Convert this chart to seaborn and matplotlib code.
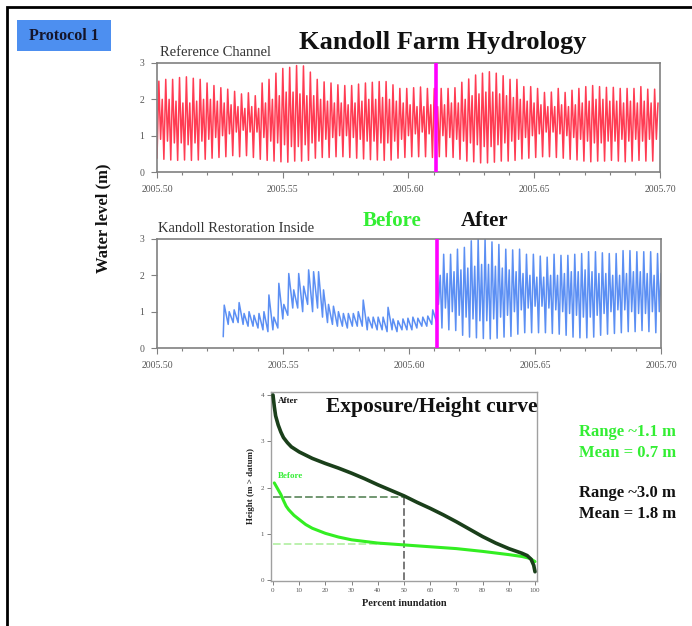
import numpy as np
import pandas as pd
import matplotlib
matplotlib.use("Agg")
import matplotlib.pyplot as plt
import seaborn as sns
from matplotlib.patches import Rectangle
from matplotlib.ticker import MultipleLocator, FormatStrFormatter

sns.set_theme(style="white")
plt.rcParams['font.family'] = ['Liberation Serif', 'DejaVu Serif']

# ---------------- data ----------------
START = 2005.50
DAYS_PER_YEAR = 365.25
SWITCH_YEAR = 2005.611          # magenta line: before / after restoration

# Reference channel: daily tide extremes (m)
ref_high = [2.50, 2.55, 2.55, 2.60, 2.62, 2.58, 2.55, 2.45, 2.38, 2.32, 2.28, 2.22, 2.15, 2.18, 2.10,
            2.45, 2.55, 2.72, 2.85, 2.88, 2.93, 2.92, 2.75, 2.55, 2.48, 2.45, 2.40, 2.38, 2.38, 2.42,
            2.45, 2.47, 2.49, 2.49, 2.40, 2.30, 2.30, 2.32, 2.34, 2.30, 2.30, 2.30, 2.30, 2.32, 2.47,
            2.56, 2.67, 2.72, 2.76, 2.72, 2.65, 2.55, 2.55, 2.35, 2.35, 2.30, 2.19, 2.20, 2.30, 2.19,
            2.25, 2.30, 2.35, 2.38, 2.35, 2.33, 2.33, 2.30, 2.30, 2.30, 2.35, 2.28, 2.28]
ref_low = [0.38, 0.35, 0.33, 0.32, 0.33, 0.32, 0.33, 0.35, 0.38, 0.40, 0.42, 0.45, 0.42, 0.45, 0.40,
           0.35, 0.32, 0.30, 0.28, 0.27, 0.30, 0.30, 0.32, 0.38, 0.40, 0.40, 0.42, 0.42, 0.40, 0.38,
           0.36, 0.34, 0.33, 0.32, 0.33, 0.38, 0.40, 0.42, 0.42, 0.42, 0.40, 0.42, 0.42, 0.40, 0.35,
           0.30, 0.28, 0.25, 0.25, 0.27, 0.30, 0.30, 0.32, 0.36, 0.38, 0.40, 0.42, 0.42, 0.40, 0.38,
           0.35, 0.33, 0.30, 0.28, 0.30, 0.30, 0.32, 0.30, 0.28, 0.30, 0.32, 0.30, 0.30]
ref_mid_high = [2.00, 2.00, 1.95, 1.90, 1.90, 1.95, 2.00, 2.00, 1.95, 1.90, 1.85, 1.80, 1.75, 1.80, 1.75,
                1.90, 2.00, 2.10, 2.20, 2.20, 2.15, 2.10, 2.10, 2.00, 1.95, 1.90, 1.90, 1.85, 1.90, 1.95,
                2.00, 2.00, 2.05, 2.00, 1.95, 1.90, 1.85, 1.80, 1.80, 1.85, 1.80, 1.85, 1.90, 1.90, 2.00,
                2.10, 2.15, 2.20, 2.20, 2.15, 2.10, 2.05, 2.00, 1.95, 1.90, 1.85, 1.80, 1.80, 1.85, 1.80,
                1.85, 1.90, 1.95, 2.00, 2.00, 1.95, 1.95, 1.90, 1.95, 1.90, 1.95, 1.90, 1.90]
ref_mid_low = [0.90, 0.85, 0.80, 0.80, 0.75, 0.80, 0.85, 0.90, 0.95, 1.00, 1.05, 1.10, 1.15, 1.10, 1.10,
               0.95, 0.85, 0.80, 0.75, 0.70, 0.70, 0.75, 0.80, 0.85, 0.90, 0.95, 1.00, 1.00, 0.95, 0.90,
               0.85, 0.85, 0.80, 0.80, 0.85, 0.90, 1.00, 1.05, 1.10, 1.05, 1.00, 1.00, 0.95, 0.90, 0.85,
               0.80, 0.75, 0.70, 0.70, 0.75, 0.80, 0.85, 0.90, 0.95, 1.00, 1.05, 1.10, 1.10, 1.05, 1.00,
               0.95, 0.90, 0.85, 0.80, 0.80, 0.85, 0.85, 0.90, 0.85, 0.90, 0.85, 0.90, 0.90]

# Kandoll restoration inside, before breach: saw-tooth peaks / troughs (m)
ins_before_start_day = 9.6
ins_before_peak = [1.18, 1.00, 1.05, 1.25, 0.95, 1.00, 0.90, 0.95, 1.00, 1.46, 0.85, 1.78, 1.20, 2.05,
                   1.60, 2.05, 1.70, 2.15, 2.10, 2.10, 1.60, 1.20, 1.15, 1.00, 0.95, 0.95, 0.95, 1.00,
                   1.32, 0.85, 0.85, 0.85, 0.85, 1.12, 0.80, 0.75, 0.80, 0.82, 0.85, 0.82, 0.85, 0.88, 1.05]
ins_before_trough = [0.31, 0.65, 0.70, 0.70, 0.65, 0.60, 0.60, 0.55, 0.50, 0.45, 0.50, 0.55, 0.80, 0.90,
                     1.10, 1.10, 1.00, 1.20, 1.00, 1.10, 0.85, 0.70, 0.65, 0.60, 0.60, 0.55, 0.60, 0.60,
                     0.60, 0.50, 0.55, 0.50, 0.50, 0.45, 0.50, 0.45, 0.50, 0.50, 0.50, 0.55, 0.60, 0.60, 0.65]
ins_before_end = 0.70

# Kandoll restoration inside, after breach: daily tide extremes (m)
ins_after_start_day = 40.55
ins_after_high = [2.42, 2.58, 2.58, 2.72, 2.77, 2.95, 3.00, 3.00, 2.92, 2.85, 2.72, 2.70, 2.72, 2.58,
                  2.58, 2.53, 2.50, 2.58, 2.55, 2.55, 2.58, 2.60, 2.65, 2.65, 2.62, 2.60, 2.60, 2.68,
                  2.68, 2.65, 2.65, 2.65, 2.60]
ins_after_low = [0.55, 0.50, 0.48, 0.35, 0.30, 0.28, 0.26, 0.25, 0.27, 0.30, 0.32, 0.38, 0.42, 0.42,
                 0.42, 0.42, 0.40, 0.38, 0.35, 0.30, 0.28, 0.28, 0.30, 0.35, 0.38, 0.40, 0.42, 0.45,
                 0.45, 0.48, 0.45, 0.42, 0.40]
ins_after_mid_high = [2.00, 2.05, 2.10, 2.15, 2.20, 2.25, 2.30, 2.30, 2.25, 2.20, 2.15, 2.10, 2.05, 2.00,
                      1.95, 1.95, 2.00, 2.00, 2.05, 2.10, 2.10, 2.15, 2.10, 2.05, 2.05, 2.00, 2.00, 2.05,
                      2.10, 2.10, 2.05, 2.00, 2.05]
ins_after_mid_low = [1.20, 1.10, 1.00, 0.90, 0.85, 0.80, 0.75, 0.75, 0.80, 0.85, 0.90, 1.00, 1.05, 1.10,
                     1.15, 1.15, 1.10, 1.05, 1.00, 0.95, 0.90, 0.85, 0.85, 0.90, 0.95, 1.00, 1.05, 1.05,
                     1.00, 0.95, 0.95, 1.00, 1.00]

# Exposure / height curves
after_pct = [0, 0.5, 1, 2, 3, 4, 5.5, 7, 10, 15, 20, 25, 30, 35, 40, 45, 50, 55, 60, 65, 70, 75, 80,
             85, 90, 95, 97, 98.5, 99.5, 100]
after_height = [4.0, 3.75, 3.55, 3.35, 3.2, 3.08, 2.97, 2.88, 2.77, 2.63, 2.52, 2.42, 2.31, 2.19,
                2.06, 1.94, 1.82, 1.68, 1.55, 1.41, 1.26, 1.10, 0.94, 0.80, 0.68, 0.58, 0.53, 0.45,
                0.32, 0.18]
before_pct = [0.5, 1, 2, 3, 4, 5, 6, 8, 10, 12.5, 15, 20, 25, 30, 40, 50, 60, 70, 80, 90, 95, 98, 100]
before_height = [2.1, 2.05, 1.95, 1.85, 1.72, 1.6, 1.52, 1.4, 1.31, 1.2, 1.12, 1.01, 0.93, 0.87,
                 0.80, 0.76, 0.72, 0.68, 0.62, 0.55, 0.51, 0.47, 0.40]
after_mean_line = 1.8
before_mean_line = 0.77
median_pct = 50
before_line_end = 43

summary_before = ["Range ~1.1 m", "Mean = 0.7 m"]
summary_after = ["Range ~3.0 m", "Mean = 1.8 m"]

# ---------------- build tables ----------------
OFFS = [0.0, 0.27, 0.52, 0.76]
rows = []
for d in range(len(ref_high)):
    for off, v in zip(OFFS, (ref_low[d], ref_high[d], ref_mid_low[d], ref_mid_high[d])):
        rows.append((START + (d + off) / DAYS_PER_YEAR, v))
ref_df = pd.DataFrame(rows, columns=["year", "level"])

rows = []
t0 = START + ins_before_start_day / DAYS_PER_YEAR
step = (SWITCH_YEAR - t0) / len(ins_before_peak)
for i, (p, tr) in enumerate(zip(ins_before_peak, ins_before_trough)):
    rows.append((t0 + i * step, tr))
    rows.append((t0 + (i + 0.2) * step, p))
rows.append((SWITCH_YEAR, ins_before_end))
AOFFS = [0.0, 0.25, 0.5, 0.75]
for d in range(len(ins_after_high)):
    for off, v in zip(AOFFS, (ins_after_high[d], ins_after_mid_low[d], ins_after_mid_high[d], ins_after_low[d])):
        rows.append((START + (ins_after_start_day + d + off) / DAYS_PER_YEAR, v))
ins_df = pd.DataFrame(rows, columns=["year", "level"])

after_df = pd.DataFrame({"pct": after_pct, "h": after_height})
before_df = pd.DataFrame({"pct": before_pct, "h": before_height})

# ---------------- figure ----------------
W, H = 692, 626
fig = plt.figure(figsize=(W / 100, H / 100), dpi=100)
fig.patch.set_facecolor("white")

def fx(x):
    return x / W

def fy(y):
    return 1 - y / H

RED = "#ff1a35"
BLUE = "#3f7cf2"
MAG = "#ff00ff"
GREEN = "#33ee33"
GRAY = "#808080"
TICKC = "#555555"

ax1 = fig.add_axes([fx(157), fy(172), (660 - 157) / W, (172 - 63) / H])
ax2 = fig.add_axes([fx(157), fy(348), (661 - 157) / W, (348 - 239) / H])
ax3 = fig.add_axes([fx(271), fy(581), (537 - 271) / W, (581 - 392) / H])

sns.lineplot(data=ref_df, x="year", y="level", sort=False, estimator=None, ax=ax1,
             color=RED, lw=1.1, alpha=0.85)
sns.lineplot(data=ins_df, x="year", y="level", sort=False, estimator=None, ax=ax2,
             color=BLUE, lw=1.1, alpha=0.85)

for ax in (ax1, ax2):
    ax.axvline(SWITCH_YEAR, color=MAG, lw=2.6, zorder=5)
    ax.set_xlim(START, 2005.70)
    ax.set_ylim(0, 3)
    ax.xaxis.set_major_locator(MultipleLocator(0.05))
    ax.xaxis.set_minor_locator(MultipleLocator(0.01))
    ax.xaxis.set_major_formatter(FormatStrFormatter("%.2f"))
    ax.yaxis.set_major_locator(MultipleLocator(1))
    ax.set_xlabel("")
    ax.set_ylabel("")
    ax.tick_params(axis="both", which="major", direction="out", length=4, width=0.8,
                   colors=GRAY, labelcolor=TICKC, labelsize=7, pad=5)
    ax.tick_params(axis="x", which="minor", direction="out", length=2.5, width=0.8, colors=GRAY)
    ax.tick_params(bottom=True, left=True, which="both")
    for s in ax.spines.values():
        s.set_color(GRAY)
        s.set_linewidth(1.2)

# bottom panel
sns.lineplot(data=after_df, x="pct", y="h", sort=False, estimator=None, ax=ax3,
             color="#1a3f1a", lw=2.6, zorder=4)
sns.lineplot(data=before_df, x="pct", y="h", sort=False, estimator=None, ax=ax3,
             color="#33ee22", lw=2.2, zorder=3)
ax3.hlines(after_mean_line, 0, median_pct, colors="#4a7a4a", linestyles=(0, (5, 2)), lw=1.1, zorder=2)
ax3.vlines(median_pct, 0, after_mean_line, colors="#555555", linestyles=(0, (5, 2)), lw=1.1, zorder=2)
ax3.hlines(before_mean_line, 0, before_line_end, colors="#aaee99", linestyles=(0, (5, 2)), lw=1.1, zorder=2)
ax3.set_xlim(-0.76, 100.76)
ax3.set_ylim(-0.02, 4.065)
ax3.xaxis.set_major_locator(MultipleLocator(10))
ax3.yaxis.set_major_locator(MultipleLocator(1))
ax3.tick_params(axis="both", which="major", direction="out", length=3, width=0.7,
                colors=GRAY, labelcolor=TICKC, labelsize=5, pad=2)
ax3.tick_params(bottom=True, left=True)
for s in ax3.spines.values():
    s.set_color("#a0a0a0")
    s.set_linewidth(1.0)
ax3.set_xlabel("Percent inundation", fontsize=7.5, fontweight="bold", color="#222222", labelpad=4)
ax3.set_ylabel("Height (m > datum)", fontsize=6.5, fontweight="bold", color="#222222", labelpad=4)
ax3.text(1.8, 3.88, "After", fontsize=6.5, fontweight="bold", color="#111111", va="center")
ax3.text(2.0, 2.25, "Before", fontsize=6.5, fontweight="bold", color=GREEN, va="center")
ax3.text(1.0, 0.92, "Exposure/Height curve", transform=ax3.transAxes, ha="right", va="center",
         fontsize=15.5, fontweight="bold", color="#111111")

# ---------------- slide decorations ----------------
fig.patches.append(Rectangle((fx(7), fy(660)), (720 - 7) / W, (660 - 7) / H, transform=fig.transFigure,
                             fill=False, edgecolor="black", lw=2))
fig.patches.append(Rectangle((fx(17), fy(51)), (111 - 17) / W, (51 - 20) / H, transform=fig.transFigure,
                             facecolor="#4d8ff0", edgecolor="none"))
fig.text(fx(64), fy(36), "Protocol 1", ha="center", va="center", fontsize=11.5,
         fontweight="bold", color="#15152a")
fig.text(fx(443), fy(42), "Kandoll Farm Hydrology", ha="center", va="center", fontsize=19,
         fontweight="bold", color="#111111")
fig.text(fx(160), fy(53), "Reference Channel", ha="left", va="center", fontsize=10.5, color="#333333")
fig.text(fx(158), fy(228), "Kandoll Restoration Inside", ha="left", va="center", fontsize=10.5,
         color="#333333")
fig.text(fx(392), fy(221), "Before", ha="center", va="center", fontsize=15, fontweight="bold",
         color=GREEN)
fig.text(fx(485), fy(221), "After", ha="center", va="center", fontsize=15, fontweight="bold",
         color="#111111")
fig.text(fx(103), fy(218), "Water level (m)", ha="center", va="center", rotation=90, fontsize=12,
         fontweight="bold", color="#111111")
for i, s in enumerate(summary_before):
    fig.text(fx(579), fy(432 + 21 * i), s, ha="left", va="center", fontsize=12, fontweight="bold",
             color=GREEN)
for i, s in enumerate(summary_after):
    fig.text(fx(579), fy(493 + 21 * i), s, ha="left", va="center", fontsize=12, fontweight="bold",
             color="#111111")

fig.savefig("out.png", dpi=100, facecolor="white")
